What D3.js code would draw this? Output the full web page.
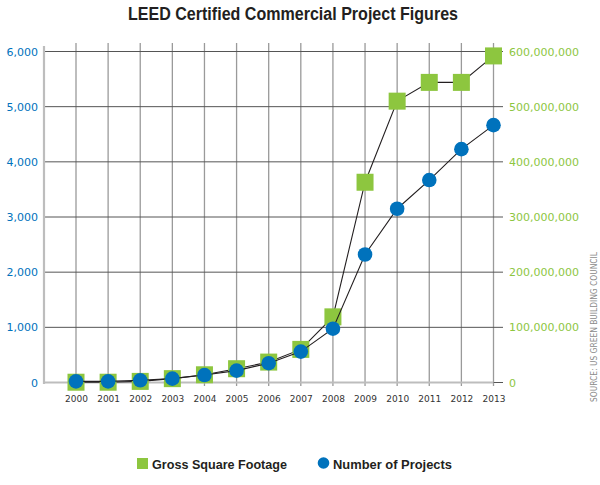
<!DOCTYPE html>
<html>
<head>
<meta charset="utf-8">
<script src="https://cdn.jsdelivr.net/npm/d3@7"></script>
<style>
  body { margin: 0; background: #ffffff; }
</style>
</head>
<body>
<div id="canvas"></div>
<script>
"use strict"

/* Data */
let years = [2000, 2001, 2002, 2003, 2004, 2005, 2006, 2007, 2008, 2009, 2010, 2011, 2012, 2013];
let projects = [20, 20, 40, 70, 135, 215, 350, 560, 975, 2320, 3150, 3670, 4230, 4665];
let sqFootage = [0.5e6, 0.5e6, 2e6, 7e6, 14e6, 25e6, 37e6, 60e6, 119e6, 363e6, 510e6, 544e6, 544e6, 592e6];
let leftTicks = [0, 1000, 2000, 3000, 4000, 5000, 6000];
let rightTicks = [0, 100e6, 200e6, 300e6, 400e6, 500e6, 600e6];
let seriesNames = ["Gross Square Footage", "Number of Projects"];

/* Configuration variables: drawing */
let svgWidth = 600;
let svgHeight = 485;
let green = "#8dc63f";
let blue = "#0072bc";
let axisLeftX = 44;
let gridRightX = 503;

let svg = d3.select("#canvas")
    .append("svg")
    .attr("width", svgWidth)
    .attr("height", svgHeight);

let xScale = d3.scaleLinear()
    .domain([2000, 2013])
    .range([76, 493.5]);

let yLeft = d3.scaleLinear()
    .domain([0, 6000])
    .range([382.5, 51.5]);

let yRight = d3.scaleLinear()
    .domain([0, 600e6])
    .range([382.5, 51.5]);

/* Title */
svg.append("text")
    .attr("x", 293)
    .attr("y", 20)
    .attr("text-anchor", "middle")
    .attr("textLength", 330)
    .attr("lengthAdjust", "spacingAndGlyphs")
    .style("font-family", "'Liberation Sans Narrow', 'Liberation Sans', Arial, sans-serif")
    .style("font-weight", "bold")
    .style("font-size", "18px")
    .style("fill", "#231f20")
    .text("LEED Certified Commercial Project Figures");

/**** Grid ****/
// vertical year lines
svg.selectAll(".vgrid")
    .data(years)
    .join("line")
    .attr("class", "vgrid")
    .attr("x1", d => xScale(d))
    .attr("x2", d => xScale(d))
    .attr("y1", 43)
    .attr("y2", 386)
    .attr("stroke", "#9a9a9a")
    .attr("stroke-width", 1.3);

// horizontal lines (run out to the right axis labels)
svg.selectAll(".hgrid")
    .data(leftTicks)
    .join("line")
    .attr("class", "hgrid")
    .attr("x1", axisLeftX)
    .attr("x2", gridRightX)
    .attr("y1", d => yLeft(d))
    .attr("y2", d => yLeft(d))
    .attr("stroke", "#555555")
    .attr("stroke-width", 1);

// Y axis line
svg.append("line")
    .attr("x1", axisLeftX)
    .attr("x2", axisLeftX)
    .attr("y1", 46)
    .attr("y2", 384)
    .attr("stroke", "#bdbdbd")
    .attr("stroke-width", 2.2);

// X axis line
svg.append("line")
    .attr("x1", axisLeftX)
    .attr("x2", xScale(2013))
    .attr("y1", yLeft(0))
    .attr("y2", yLeft(0))
    .attr("stroke", "#bdbdbd")
    .attr("stroke-width", 2.2);

/**** Axis labels ****/
let leftAxis = d3.axisLeft(yLeft)
    .tickValues(leftTicks)
    .tickFormat(d3.format(","))
    .tickSize(0)
    .tickPadding(6);

let gLeft = svg.append("g")
    .attr("transform", "translate(" + axisLeftX + ",0)")
    .call(leftAxis);
gLeft.select(".domain").remove();
gLeft.selectAll("text")
    .style("font-family", "'DejaVu Sans', sans-serif")
    .style("font-size", "11px")
    .style("fill", blue);

let rightAxis = d3.axisRight(yRight)
    .tickValues(rightTicks)
    .tickFormat(d3.format(","))
    .tickSize(0)
    .tickPadding(6);

let gRight = svg.append("g")
    .attr("transform", "translate(" + gridRightX + ",0)")
    .call(rightAxis);
gRight.select(".domain").remove();
gRight.selectAll("text")
    .style("font-family", "'DejaVu Sans', sans-serif")
    .style("font-size", "11px")
    .style("fill", green);

let bottomAxis = d3.axisBottom(xScale)
    .tickValues(years)
    .tickFormat(d3.format("d"))
    .tickSize(0)
    .tickPadding(13.5);

let gBottom = svg.append("g")
    .attr("transform", "translate(0," + yLeft(0) + ")")
    .call(bottomAxis);
gBottom.select(".domain").remove();
gBottom.selectAll("text")
    .style("font-family", "'DejaVu Sans', sans-serif")
    .style("font-size", "9px")
    .style("fill", "#333333");

/**** Series ****/
let sqData = years.map((y, i) => ({ year: y, value: sqFootage[i] }));
let projData = years.map((y, i) => ({ year: y, value: projects[i] }));

let sqLine = d3.line()
    .x(d => xScale(d.year))
    .y(d => yRight(d.value));

let projLine = d3.line()
    .x(d => xScale(d.year))
    .y(d => yLeft(d.value));

let sqSize = 17;

svg.append("path")
    .datum(sqData)
    .attr("d", sqLine)
    .attr("fill", "none")
    .attr("stroke", "#231f20")
    .attr("stroke-width", 1.1);

svg.selectAll(".sq")
    .data(sqData)
    .join("rect")
    .attr("class", "sq")
    .attr("x", d => xScale(d.year) - sqSize / 2)
    .attr("y", d => yRight(d.value) - sqSize / 2)
    .attr("width", sqSize)
    .attr("height", sqSize)
    .attr("fill", green);

svg.append("path")
    .datum(projData)
    .attr("d", projLine)
    .attr("fill", "none")
    .attr("stroke", "#231f20")
    .attr("stroke-width", 1.1);

svg.selectAll(".proj")
    .data(projData)
    .join("circle")
    .attr("class", "proj")
    .attr("cx", d => xScale(d.year))
    .attr("cy", d => yLeft(d.value))
    .attr("r", 7.3)
    .attr("fill", blue);

/**** Legend ****/
svg.append("rect")
    .attr("x", 137)
    .attr("y", 458)
    .attr("width", 11)
    .attr("height", 11)
    .attr("fill", green);

svg.append("text")
    .attr("x", 152)
    .attr("y", 468.5)
    .attr("textLength", 135)
    .attr("lengthAdjust", "spacingAndGlyphs")
    .style("font-family", "'Liberation Sans', Arial, sans-serif")
    .style("font-weight", "bold")
    .style("font-size", "13px")
    .style("fill", "#231f20")
    .text(seriesNames[0]);

svg.append("circle")
    .attr("cx", 323.5)
    .attr("cy", 463)
    .attr("r", 5.8)
    .attr("fill", blue);

svg.append("text")
    .attr("x", 333)
    .attr("y", 468.5)
    .attr("textLength", 119)
    .attr("lengthAdjust", "spacingAndGlyphs")
    .style("font-family", "'Liberation Sans', Arial, sans-serif")
    .style("font-weight", "bold")
    .style("font-size", "13px")
    .style("fill", "#231f20")
    .text(seriesNames[1]);

/* Source note, rotated */
svg.append("text")
    .attr("transform", "translate(596.5,402) rotate(-90)")
    .attr("textLength", 150)
    .attr("lengthAdjust", "spacingAndGlyphs")
    .style("font-family", "'DejaVu Sans', sans-serif")
    .style("font-size", "8.5px")
    .style("fill", "#8a8a8a")
    .text("SOURCE: US GREEN BUILDING COUNCIL");
</script>
</body>
</html>
